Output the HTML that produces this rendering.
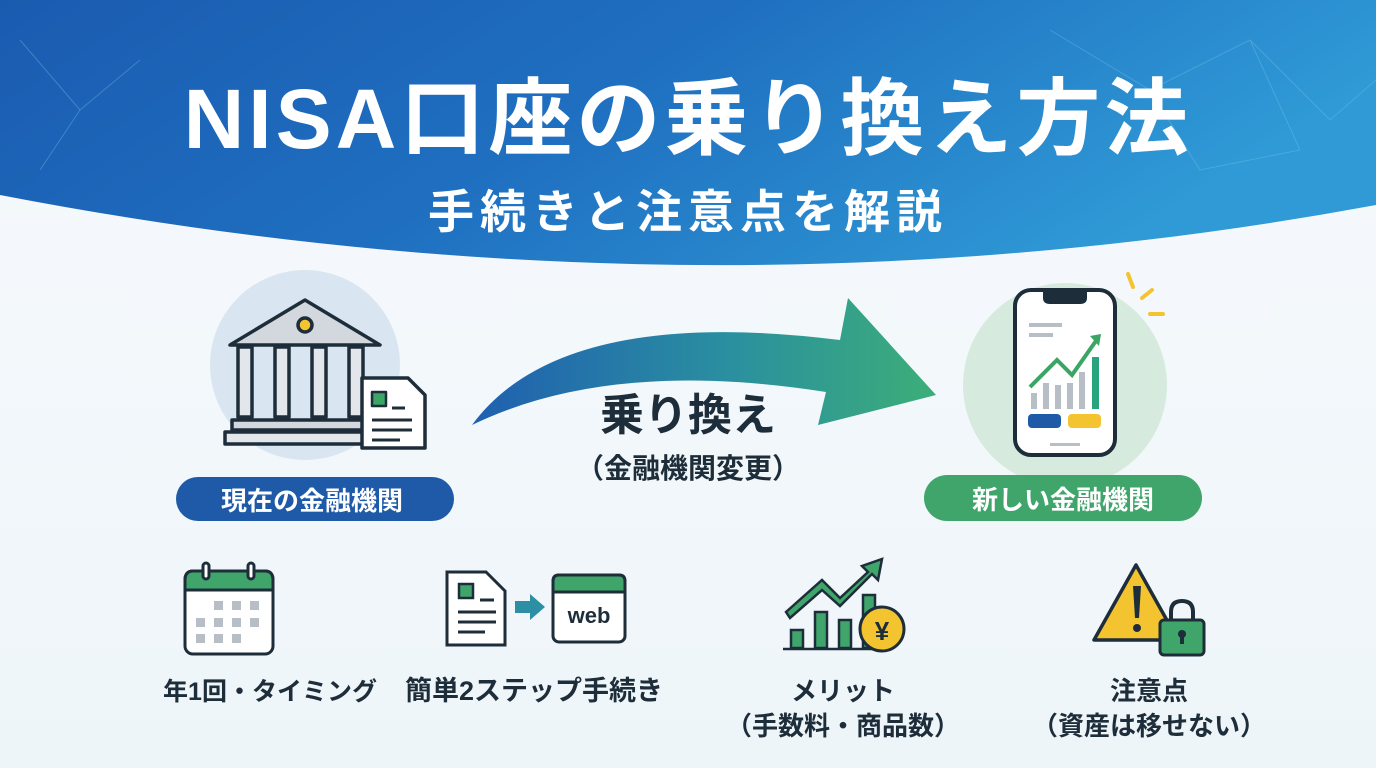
<!DOCTYPE html>
<html><head><meta charset="utf-8"><style>
body{margin:0;width:1376px;height:768px;overflow:hidden;font-family:"Liberation Sans","Noto Sans CJK JP",sans-serif;}
</style></head><body>
<svg width="1376" height="768" viewBox="0 0 1376 768" xmlns="http://www.w3.org/2000/svg" font-family="Liberation Sans, Noto Sans CJK JP, sans-serif">
<defs>
<linearGradient id="bg" x1="0" y1="0" x2="0" y2="1"><stop offset="0" stop-color="#f7fafd"/><stop offset="1" stop-color="#eef5f9"/></linearGradient>
<linearGradient id="hd" x1="0" y1="0" x2="1" y2="0.3"><stop offset="0" stop-color="#1a5bb0"/><stop offset="0.5" stop-color="#1f6fc0"/><stop offset="1" stop-color="#2f9ad6"/></linearGradient>
<linearGradient id="ar" x1="0" y1="0" x2="1" y2="0"><stop offset="0" stop-color="#1f5fb0"/><stop offset="0.55" stop-color="#2a8fa0"/><stop offset="1" stop-color="#3cae78"/></linearGradient>
</defs>
<rect width="1376" height="768" fill="url(#bg)"/>
<path d="M0 0H1376V205Q700 330 0 195Z" fill="url(#hd)"/>
<g stroke="#7fc6ee" stroke-opacity="0.35" stroke-width="1" fill="none">
<path d="M1050 30L1150 90L1250 40L1330 120L1376 80M1150 90L1200 170L1300 150M1250 40L1300 150M20 40L80 110L140 60M80 110L40 170"/>
</g>
<text x="688" y="148" text-anchor="middle" font-size="84" font-weight="bold" letter-spacing="4" fill="#fff">NISA口座の乗り換え方法</text>
<text x="688" y="228" text-anchor="middle" font-size="46" font-weight="bold" letter-spacing="6" fill="#fff">手続きと注意点を解説</text>

<!-- bank -->
<circle cx="305" cy="365" r="95" fill="#d9e6f1"/>
<g stroke="#1e2d3a" stroke-width="3.5" stroke-linejoin="round">
<path d="M230 345L305 300L380 345Z" fill="#d2d8de"/>
<circle cx="305" cy="325" r="7" fill="#f4c430"/>
<rect x="238" y="347" width="14" height="70" fill="#e3e7eb"/>
<rect x="275" y="347" width="14" height="70" fill="#e3e7eb"/>
<rect x="312" y="347" width="14" height="70" fill="#e3e7eb"/>
<rect x="349" y="347" width="14" height="70" fill="#e3e7eb"/>
<rect x="232" y="420" width="140" height="10" fill="#d2d8de"/>
<rect x="225" y="432" width="155" height="12" fill="#e3e7eb"/>
<path d="M362 378H408L425 395V448H362Z" fill="#fff"/>
<rect x="372" y="392" width="14" height="14" fill="#3aa564" stroke-width="2.5"/>
<path d="M392 408H405M372 420H412M372 430H412M372 440H400" stroke-width="3"/>
</g>
<rect x="176" y="477" width="278" height="44" rx="22" fill="#1e5aa8"/>
<text x="312" y="510" text-anchor="middle" font-size="26" font-weight="bold" fill="#fff">現在の金融機関</text>

<!-- arrow -->
<path d="M472 425Q560 305 840 340L848 298L936 395L818 425L826 392Q610 358 472 425Z" fill="url(#ar)"/>
<text x="688" y="430" text-anchor="middle" font-size="44" font-weight="bold" fill="#1e2d3a">乗り換え</text>
<text x="688" y="478" text-anchor="middle" font-size="28" font-weight="bold" fill="#1e2d3a">（金融機関変更）</text>

<!-- phone -->
<circle cx="1065" cy="385" r="102" fill="#d6ebde"/>
<g stroke="#1e2d3a" stroke-width="4">
<rect x="1015" y="290" width="100" height="165" rx="16" fill="#fff"/>
<path d="M1045 291H1085V298Q1085 302 1080 302H1050Q1045 302 1045 298Z" fill="#1e2d3a"/>
</g>
<g fill="#b7bec6"><rect x="1029" y="323" width="33" height="4"/><rect x="1029" y="333" width="24" height="4"/>
<rect x="1031" y="393" width="6" height="16"/><rect x="1043" y="383" width="6" height="26"/><rect x="1055" y="385" width="6" height="24"/><rect x="1067" y="383" width="6" height="26"/><rect x="1079" y="372" width="6" height="37"/><rect x="1050" y="443" width="30" height="3"/></g>
<rect x="1092" y="357" width="7" height="52" fill="#2aa37f"/>
<path d="M1030 387L1057 360L1072 375L1098 338" stroke="#3aa564" stroke-width="4" fill="none"/>
<path d="M1090 336L1101 334L1099 346Z" fill="#3aa564"/>
<rect x="1028" y="414" width="33" height="14" rx="4" fill="#1e5aa8"/>
<rect x="1068" y="414" width="33" height="14" rx="4" fill="#f4c430"/>
<g stroke="#f4c430" stroke-width="4" stroke-linecap="round"><path d="M1128 274L1133 287M1142 298L1152 290M1150 314H1163"/></g>
<rect x="924" y="475" width="278" height="46" rx="23" fill="#3fa56b"/>
<text x="1063" y="509" text-anchor="middle" font-size="26" font-weight="bold" fill="#fff">新しい金融機関</text>

<!-- calendar -->
<g stroke="#1e2d3a" stroke-width="3">
<rect x="185" y="571" width="88" height="83" rx="8" fill="#fff"/>
<path d="M185 590V580Q185 571 193 571H265Q273 571 273 580V590Z" fill="#3fa56b"/>
<rect x="203" y="563" width="6" height="16" rx="3" fill="#fff"/><rect x="248" y="563" width="6" height="16" rx="3" fill="#fff"/>
</g>
<g fill="#b7bec6"><rect x="214" y="601" width="9" height="9"/><rect x="232" y="601" width="9" height="9"/><rect x="250" y="601" width="9" height="9"/><rect x="196" y="618" width="9" height="9"/><rect x="214" y="618" width="9" height="9"/><rect x="232" y="618" width="9" height="9"/><rect x="250" y="618" width="9" height="9"/><rect x="196" y="634" width="9" height="9"/><rect x="214" y="634" width="9" height="9"/><rect x="232" y="634" width="9" height="9"/></g>
<text x="270" y="700" text-anchor="middle" font-size="25" font-weight="bold" fill="#1e2d3a">年1回・タイミング</text>

<!-- doc to web -->
<g stroke="#1e2d3a" stroke-width="3">
<path d="M447 572H486L505 591V645H447Z" fill="#fff"/>
<rect x="459" y="584" width="14" height="14" fill="#3fa56b" stroke-width="2.5"/>
<path d="M480 600H494M458 612H496M458 622H496M458 632H485"/>
<rect x="553" y="575" width="72" height="67" rx="6" fill="#fff"/>
<path d="M553 592V581Q553 575 559 575H619Q625 575 625 581V592Z" fill="#3fa56b"/>
</g>
<path d="M515 601H530V594L545 607L530 620V613H515Z" fill="#2c8fa3"/>
<text x="589" y="623" text-anchor="middle" font-size="22" font-weight="bold" fill="#1e2d3a">web</text>
<text x="534" y="700" text-anchor="middle" font-size="27" font-weight="bold" fill="#1e2d3a">簡単2ステップ手続き</text>

<!-- merit -->
<g stroke="#1e2d3a" stroke-width="2.5" fill="#3fa56b">
<rect x="791" y="630" width="12" height="18"/><rect x="815" y="612" width="12" height="36"/><rect x="839" y="620" width="12" height="28"/><rect x="863" y="595" width="12" height="53"/>
<path d="M786 612L822 580L840 598L868 572L862 566L882 559L878 580L872 574L840 606L822 590L790 618Z"/>
<path d="M783 649H890" fill="none"/>
<circle cx="882" cy="629" r="22" fill="#f4c430" stroke-width="3"/>
</g>
<text x="882" y="640" text-anchor="middle" font-size="26" font-weight="bold" fill="#1e2d3a">¥</text>
<text x="843" y="700" text-anchor="middle" font-size="26" font-weight="bold" fill="#1e2d3a">メリット</text>
<text x="843" y="735" text-anchor="middle" font-size="26" font-weight="bold" fill="#1e2d3a">（手数料・商品数）</text>

<!-- caution -->
<path d="M1136 565L1094 640H1178Z" fill="#f4c430" stroke="#1e2d3a" stroke-width="3.5" stroke-linejoin="round"/>
<path d="M1133 586H1141L1139 618H1135Z" fill="#1e2d3a"/><circle cx="1137" cy="628" r="4" fill="#1e2d3a"/>
<path d="M1171 622V612Q1171 601 1182 601Q1193 601 1193 612V622" fill="none" stroke="#1e2d3a" stroke-width="4"/>
<rect x="1160" y="620" width="44" height="35" rx="4" fill="#3fa56b" stroke="#1e2d3a" stroke-width="3"/>
<circle cx="1182" cy="634" r="4" fill="#1e2d3a"/><rect x="1180" y="634" width="4" height="10" fill="#1e2d3a"/>
<text x="1149" y="700" text-anchor="middle" font-size="26" font-weight="bold" fill="#1e2d3a">注意点</text>
<text x="1149" y="735" text-anchor="middle" font-size="26" font-weight="bold" fill="#1e2d3a">（資産は移せない）</text>
</svg>
</body></html>
